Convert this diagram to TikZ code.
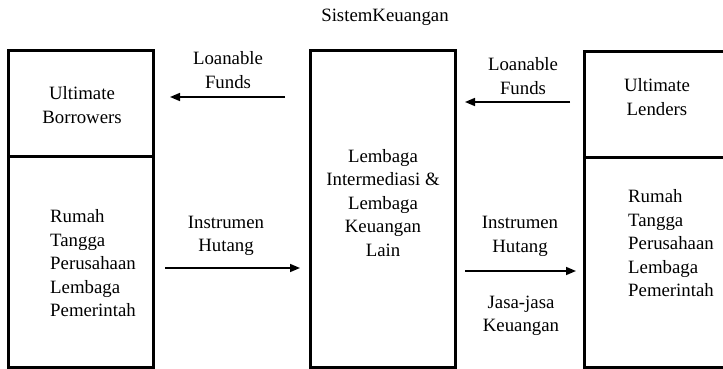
\documentclass[tikz,border=0pt]{standalone}
\usepackage{fontspec}
\setmainfont{Liberation Serif}
\usetikzlibrary{arrows.meta}
\begin{document}
\begin{tikzpicture}[x=1pt,y=-1pt,
  boxpart/.style={draw,line width=3pt,rectangle,inner sep=0pt,minimum width=145pt},
  txt/.style={inner sep=0pt,font=\fontsize{18.8}{23.5}\selectfont},
  arr/.style={line width=1.5pt,-{Triangle[length=10pt,width=8pt]}}]
\useasboundingbox (0,0) rectangle (723,369);
\clip (0,0) rectangle (723,369);
\fill[white] (0,0) rectangle (723,369);
% title
\node[txt] (title) at (385,17) {SistemKeuangan};
% boxes
\node[boxpart,minimum height=105pt] (lt) at (80.5,103.5) {};
\node[boxpart,minimum height=211pt] (lb) at (80.5,261.5) {};
\node[boxpart,minimum height=316pt] (mid) at (382.5,209) {};
\node[boxpart,minimum height=105pt] (rt) at (656.5,104.5) {};
\node[boxpart,minimum height=210pt] (rb) at (656.5,262) {};
% box texts
\node[txt,align=center] (ltt) at (82,105) {Ultimate\\Borrowers};
\node[txt,align=left,anchor=west] (lbt) at (50,263.5) {Rumah\\Tangga\\Perusahaan\\Lembaga\\Pemerintah};
\node[txt,align=center] (midt) at (383,203) {Lembaga\\Intermediasi \&\\Lembaga\\Keuangan\\Lain};
\node[txt,align=center] (rtt) at (657,97) {Ultimate\\Lenders};
\node[txt,align=left,anchor=west] (rbt) at (628,243.5) {Rumah\\Tangga\\Perusahaan\\Lembaga\\Pemerintah};
% arrow labels
\node[txt,align=center] (l1) at (228,70) {Loanable\\Funds};
\node[txt,align=center] (l2) at (523,76) {Loanable\\Funds};
\node[txt,align=center] (l3) at (226,236) {Instrumen\\Hutang};
\node[txt,align=center] (l4) at (520,236.5) {Instrumen\\Hutang};
\node[txt,align=center] (l5) at (521,316) {Jasa-jasa\\Keuangan};
% arrow end points
\coordinate (a1s) at (285,97);
\coordinate (a1e) at (170,97);
\coordinate (a2s) at (570,102);
\coordinate (a2e) at (465,102);
\coordinate (a3s) at (165,268);
\coordinate (a3e) at (300,268);
\coordinate (a4s) at (465,271);
\coordinate (a4e) at (576,271);
\draw[arr] (a1s) -- (a1e);
\draw[arr] (a2s) -- (a2e);
\draw[arr] (a3s) -- (a3e);
\draw[arr] (a4s) -- (a4e);
\end{tikzpicture}
\end{document}
